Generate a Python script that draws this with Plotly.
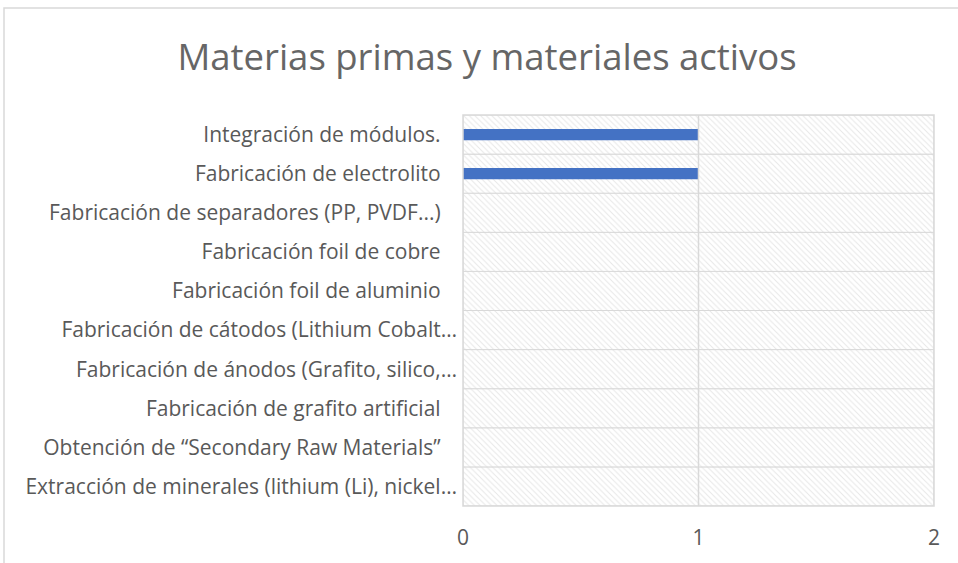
import plotly.graph_objects as go

PAD = "\u00a0\u00a0\u00a0"
categories = [
    "Extracción de minerales (lithium (Li), nickel…",
    "Obtención de “Secondary Raw Materials”" + PAD,
    "Fabricación de grafito artificial" + PAD,
    "Fabricación de ánodos (Grafito, silico,…",
    "Fabricación de cátodos (Lithium Cobalt…",
    "Fabricación foil de aluminio" + PAD,
    "Fabricación foil de cobre" + PAD,
    "Fabricación de separadores (PP, PVDF...)" + PAD,
    "Fabricación de electrolito" + PAD,
    "Integración de módulos." + PAD,
]
values = [0, 0, 0, 0, 0, 0, 0, 0, 1, 1]
x_max = 2
x_ticks = [0, 1, 2]

FONT = "Open Sans"
TXT = "#595959"
GRID = "#D9D9D9"

fig = go.Figure()
# hatched plot-area background bands
fig.add_trace(go.Bar(
    y=categories, x=[x_max] * len(categories), orientation="h", width=1,
    marker=dict(color="white", line=dict(color=GRID, width=1),
                pattern=dict(shape="\\", fgcolor="#CFCFCF", bgcolor="white", size=4, solidity=0.25)),
    hoverinfo="skip", showlegend=False,
))
fig.add_trace(go.Bar(
    y=categories, x=values, orientation="h", width=0.29,
    marker=dict(color="#4472C4", line=dict(width=0)),
    showlegend=False,
))

fig.update_layout(
    width=958, height=563,
    barmode="overlay",
    paper_bgcolor="white", plot_bgcolor="white",
    margin=dict(l=463, r=24, t=115, b=57),
    title=dict(text="Materias primas y materiales activos", x=487 / 958, xref="container",
               xanchor="center", y=1 - 57 / 563, yref="container", yanchor="middle",
               font=dict(family=FONT, size=36.5, color="#666666")),
    font=dict(family=FONT, size=21, color=TXT),
    xaxis=dict(range=[0, x_max], tickvals=x_ticks, showgrid=False, zeroline=False,
               showline=False, ticks="", tickfont=dict(size=21, color=TXT), ticklabelstandoff=17),
    yaxis=dict(categoryorder="array", categoryarray=categories, showgrid=False,
               showline=False, ticks="", tickfont=dict(size=21, color=TXT), ticklabelstandoff=5),
    shapes=[
        dict(type="line", xref="x", yref="paper", x0=1, x1=1, y0=0, y1=1,
             line=dict(color=GRID, width=1.5), layer="above"),
        dict(type="rect", xref="paper", yref="paper", x0=0, x1=1, y0=0, y1=1,
             line=dict(color=GRID, width=1.5), layer="above"),
        dict(type="rect", xref="paper", yref="paper",
             x0=(4 - 463) / 471, x1=1.2, y0=-0.3, y1=(506 - 8) / 391,
             line=dict(color=GRID, width=1.5), layer="below"),
    ],
)

fig.write_html("out.html", config={"displayModeBar": False},
               post_script="document.body.style.margin='0';")
